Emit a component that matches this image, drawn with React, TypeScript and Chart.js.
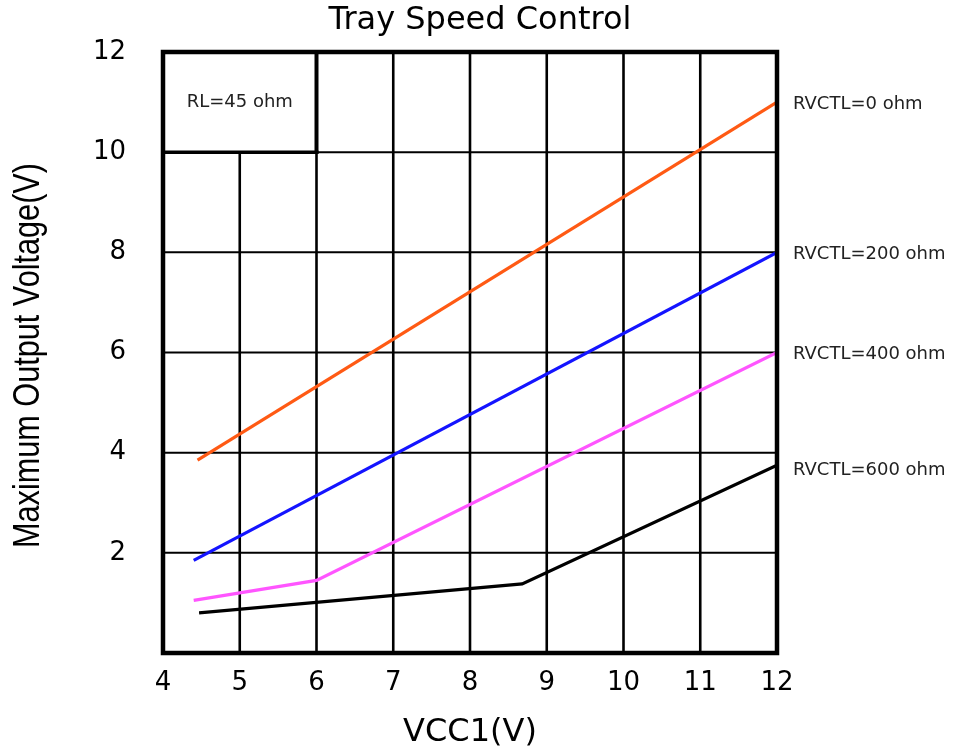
import React, { useEffect, useRef } from "react";
import { Chart, registerables } from "chart.js";

Chart.register(...registerables);

const chartTitle = "Tray Speed Control";
const xTitle = "VCC1(V)";
const yTitle = "Maximum Output Voltage(V)";
const boxLabel = "RL=45 ohm";

const seriesNames = ["RVCTL=0 ohm", "RVCTL=200 ohm", "RVCTL=400 ohm", "RVCTL=600 ohm"];
const seriesColors = ["#FF5A14", "#1414FF", "#FF55FF", "#000000"];

const vcc0 = [4.45, 12];
const vout0 = [3.85, 11.0];
const vcc200 = [4.4, 12];
const vout200 = [1.85, 8.0];
const vcc400 = [4.4, 6.0, 12];
const vout400 = [1.05, 1.45, 6.0];
const vcc600 = [4.47, 8.68, 12];
const vout600 = [0.8, 1.38, 3.75];

const xMin = 4;
const xMax = 12;
const yMin = 0;
const yMax = 12;
const xGrid = [5, 6, 7, 8, 9, 10, 11];
const yGrid = [2, 4, 6, 8, 10];
const boxX = [4, 6];
const boxY = [10, 12];

const toPoints = (xs: number[], ys: number[]) => xs.map((x, i) => ({ x, y: ys[i] }));
const seriesX = [vcc0, vcc200, vcc400, vcc600];
const seriesY = [vout0, vout200, vout400, vout600];

const FONT = "'DejaVu Sans', 'Liberation Sans', sans-serif";
const ARIAL = "'Liberation Sans', Arial, sans-serif";

export default function App() {
  const ref = useRef<HTMLCanvasElement | null>(null);

  useEffect(() => {
    if (!ref.current) return;

    const decor = {
      id: "decor",
      beforeDatasetsDraw(chart: any) {
        const { ctx, chartArea: a, scales } = chart;
        const xs = scales.x;
        const ys = scales.y;
        ctx.save();
        ctx.strokeStyle = "#000";
        ctx.lineCap = "butt";
        const line = (x1: number, y1: number, x2: number, y2: number, w: number) => {
          ctx.lineWidth = w;
          ctx.beginPath();
          ctx.moveTo(x1, y1);
          ctx.lineTo(x2, y2);
          ctx.stroke();
        };
        const yBoxBottom = ys.getPixelForValue(boxY[0]);
        const xBoxRight = xs.getPixelForValue(boxX[1]);
        xGrid.forEach((v) => {
          const px = xs.getPixelForValue(v);
          const top = v <= boxX[1] ? yBoxBottom : a.top;
          line(px, top, px, a.bottom, 2.6);
        });
        yGrid.forEach((v) => {
          const py = ys.getPixelForValue(v);
          const left = v === boxY[0] ? xBoxRight : a.left;
          line(left, py, a.right, py, 2);
        });
        // box around the note
        line(xBoxRight, a.top, xBoxRight, yBoxBottom + 1.5, 4);
        line(a.left, yBoxBottom, xBoxRight + 2, yBoxBottom, 3.5);
        ctx.fillStyle = "#222";
        ctx.font = `18px ${FONT}`;
        ctx.textAlign = "center";
        ctx.textBaseline = "middle";
        ctx.fillText(
          boxLabel,
          (xs.getPixelForValue(boxX[0]) + xBoxRight) / 2,
          (ys.getPixelForValue(boxY[1]) + yBoxBottom) / 2
        );
        ctx.restore();
      },
      afterDatasetsDraw(chart: any) {
        const { ctx, chartArea: a, scales } = chart;
        ctx.save();
        ctx.strokeStyle = "#000";
        ctx.lineWidth = 4.5;
        ctx.strokeRect(a.left, a.top, a.right - a.left, a.bottom - a.top);
        // series labels
        ctx.fillStyle = "#222";
        ctx.font = `18px ${FONT}`;
        ctx.textAlign = "left";
        ctx.textBaseline = "middle";
        seriesNames.forEach((n, i) => {
          const ys = seriesY[i];
          const py = scales.y.getPixelForValue(ys[ys.length - 1]);
          ctx.fillText(n, a.right + 16, py + (i === 3 ? 5 : 2));
        });
        // title
        ctx.fillStyle = "#000";
        ctx.font = `32px ${FONT}`;
        ctx.textAlign = "center";
        ctx.fillText(chartTitle, 480, 21);
        // y axis title (condensed)
        ctx.font = `36px ${ARIAL}`;
        const w = ctx.measureText(yTitle).width;
        const sx = 385 / w;
        ctx.translate(29, (a.top + a.bottom) / 2 + 3);
        ctx.rotate(-Math.PI / 2);
        ctx.scale(sx, 1);
        ctx.fillText(yTitle, 0, 0);
        ctx.restore();
      },
    };

    const chart = new Chart(ref.current, {
      type: "line",
      data: {
        datasets: seriesNames.map((n, i) => ({
          label: n,
          data: toPoints(seriesX[i], seriesY[i]),
          borderColor: seriesColors[i],
          backgroundColor: seriesColors[i],
          borderWidth: 3.2,
          pointRadius: 0,
          tension: 0,
          fill: false,
        })),
      },
      options: {
        animation: false,
        responsive: false,
        layout: { padding: { top: 52, right: 184, bottom: 0, left: 0 } },
        plugins: {
          legend: { display: false },
          title: { display: false },
          tooltip: { enabled: false },
        },
        scales: {
          x: {
            type: "linear",
            min: xMin,
            max: xMax,
            grid: { display: false },
            border: { display: false },
            ticks: {
              stepSize: 1,
              color: "#000",
              font: { family: FONT, size: 26 },
              padding: 7,
            },
            title: {
              display: true,
              text: xTitle,
              color: "#000",
              font: { family: FONT, size: 32, lineHeight: 1 },
              padding: 0,
            },
            afterFit(s: any) {
              s.height = 96;
            },
          },
          y: {
            type: "linear",
            min: yMin,
            max: yMax,
            grid: { display: false },
            border: { display: false },
            ticks: {
              stepSize: 2,
              color: "#000",
              font: { family: FONT, size: 26 },
              padding: 29,
              callback: (v: any) => (v === 0 ? "" : String(v)),
            },
            title: { display: false },
            afterFit(s: any) {
              s.width = 163;
            },
          },
        },
      },
      plugins: [decor],
    } as any);

    return () => chart.destroy();
  }, []);

  return (
    <div style={{ position: "fixed", left: 0, top: 0, width: 961, height: 749, background: "#fff" }}>
      <canvas ref={ref} width={961} height={749} />
    </div>
  );
}
